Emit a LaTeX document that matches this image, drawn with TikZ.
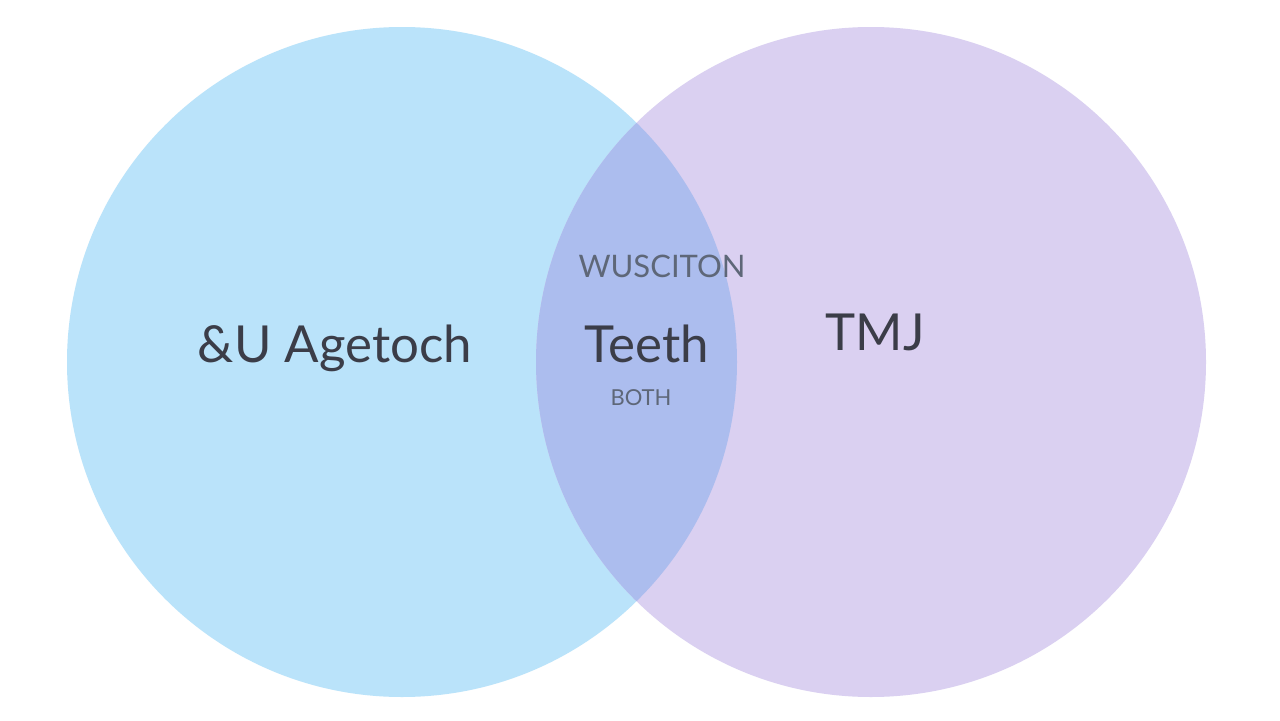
\documentclass[tikz,border=0pt]{standalone}
\usepackage{fontspec}
\setmainfont{Lato}
\usepackage{tkz-euclide}

\definecolor{leftset}{HTML}{BAE3FA}
\definecolor{rightset}{HTML}{DAD0F1}
\definecolor{bothset}{HTML}{ACBDEE}
\definecolor{darktext}{HTML}{3B3D48}
\definecolor{greytext}{HTML}{5E6778}

\tikzset{
  bigtxt/.style={anchor=base,inner sep=0pt,text=darktext,font=\fontsize{25.5}{30}\selectfont},
  midtxt/.style={anchor=base,inner sep=0pt,text=greytext,font=\fontsize{15.5}{18}\selectfont},
  tinytxt/.style={anchor=base,inner sep=0pt,text=greytext,font=\fontsize{11}{13}\selectfont}
}

\begin{document}
\begin{tikzpicture}[x=0.5pt,y=0.5pt]
            \useasboundingbox[fill=white] (0,0) rectangle (1280,720);
            \tkzDefPoint(402,358){L}
            \tkzDefPoint(871,358){R}
            % the two sets
            \fill[leftset] (L) circle[radius=167.5pt];
            \fill[rightset] (R) circle[radius=167.5pt];
            \begin{scope}
              \clip (L) circle[radius=167.5pt];
              \fill[bothset] (R) circle[radius=167.5pt];
            \end{scope}
            % labels
            \node[bigtxt] (agetoch) at (335,358) {\&U Agetoch};
            \node[midtxt] (wusciton) at (662,443) {WUSCITON};
            \node[bigtxt] (teeth) at (647,358) {Teeth};
            \node[tinytxt] (both) at (641,315) {BOTH};
            \node[bigtxt] (tmj) at (875,370) {TMJ};
        \end{tikzpicture}
\end{document}
